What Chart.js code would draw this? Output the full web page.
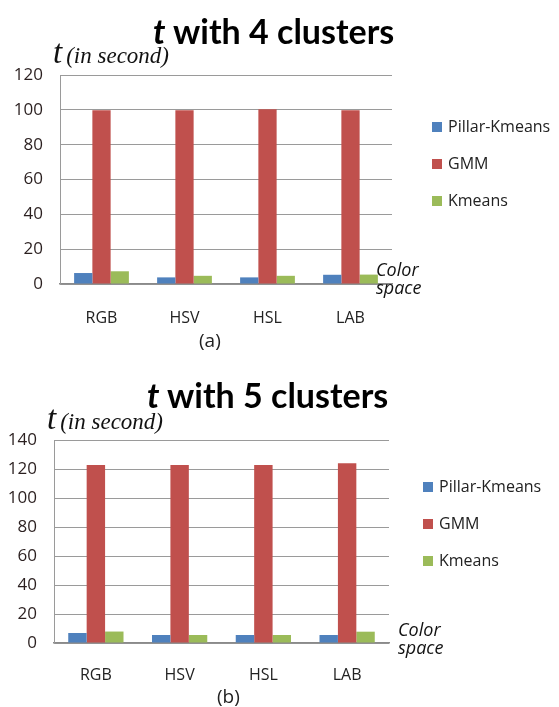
<!DOCTYPE html>
<html>
<head>
<meta charset="utf-8">
<script src="https://cdn.jsdelivr.net/npm/chart.js@4"></script>
<style>
  body { margin: 0; background: #fff; width: 559px; height: 707px; position: relative; overflow: hidden; }
  .panel { position: absolute; left: 0; width: 559px; }
  .title { position: absolute; font-family: Lato, 'Open Sans', sans-serif; font-weight: bold; font-size: 34px; color: #000; white-space: nowrap; }
  .title i { font-style: italic; }
  .ylab { position: absolute; white-space: nowrap; font-family: 'Liberation Serif', serif; font-style: italic; color: #111; }
  .ylab .big { font-size: 33px; }
  .ylab .small { font-size: 23px; }
  .xunit { position: absolute; font-family: 'Open Sans', sans-serif; font-style: italic; font-size: 18px; line-height: 18px; color: #111; }
  .cap { position: absolute; font-family: 'Open Sans', sans-serif; font-size: 19px; color: #222; }
</style>
</head>
<body>
<div class="panel" style="top:0;height:355px">
  <canvas id="chartA" width="559" height="355"></canvas>
  <div class="title" style="left:153px;top:10px"><i>t</i> with 4 clusters</div>
  <div class="ylab" style="left:53px;top:34px"><span class="big">t</span> <span class="small">(in second)</span></div>
  <div class="xunit" style="left:376px;top:260px">Color<br>space</div>
  <div class="cap" style="left:199px;top:327px">(a)</div>
</div>
<div class="panel" style="top:355px;height:352px">
  <canvas id="chartB" width="559" height="352"></canvas>
  <div class="title" style="left:147px;top:19px"><i>t</i> with 5 clusters</div>
  <div class="ylab" style="left:47px;top:45px"><span class="big">t</span> <span class="small">(in second)</span></div>
  <div class="xunit" style="left:398px;top:265px">Color<br>space</div>
  <div class="cap" style="left:217px;top:328px">(b)</div>
</div>
<script>
// categories
const colorSpaces = ['RGB', 'HSV', 'HSL', 'LAB'];
const seriesNames = ['Pillar-Kmeans', 'GMM', 'Kmeans'];

// run time in seconds, 4 clusters
const pillar4 = [6.3, 3.8, 3.8, 5.3];
const gmm4 = [99.8, 99.8, 100.4, 99.8];
const kmeans4 = [7.3, 4.7, 4.7, 5.4];

// run time in seconds, 5 clusters
const pillar5 = [6.9, 5.5, 5.5, 5.5];
const gmm5 = [122.8, 122.8, 122.8, 123.9];
const kmeans5 = [7.9, 5.5, 5.5, 7.8];

// y axis ticks
const yTicks4 = [0, 20, 40, 60, 80, 100, 120];
const yTicks5 = [0, 20, 40, 60, 80, 100, 120, 140];

const barColors = ['#4f81bd', '#c0504d', '#9bbb59'];

// draws the legend as small squares beside the plot
const sideLegend = {
    id: 'sideLegend',
    afterDraw(chart, args, opts) {
        const ctx = chart.ctx;
        ctx.save();
        ctx.font = '16px "Open Sans", sans-serif';
        ctx.textBaseline = 'middle';
        chart.data.datasets.forEach((ds, i) => {
            const y = opts.y + i * opts.gap;
            ctx.fillStyle = ds.backgroundColor;
            ctx.fillRect(opts.x, y - 5, 10, 10);
            ctx.fillStyle = '#222';
            ctx.fillText(ds.label, opts.x + 16, y);
        });
        ctx.restore();
    }
};

function makeChart(id, data, ticks, box) {
    const ctx = document.getElementById(id).getContext('2d');
    return new Chart(ctx, {
        type: 'bar',
        data: {
            labels: colorSpaces,
            datasets: data.map((vals, i) => ({
                label: seriesNames[i],
                data: vals,
                backgroundColor: barColors[i],
                categoryPercentage: 0.66,
                barPercentage: 1.0
            }))
        },
        options: {
            responsive: false,
            animation: false,
            devicePixelRatio: 1,
            layout: { padding: { top: box.top, right: box.right, left: 0, bottom: 0 } },
            plugins: {
                legend: { display: false },
                tooltip: { enabled: false },
                sideLegend: box.legend
            },
            scales: {
                x: {
                    afterFit: s => { s.height = box.xHeight; },
                    grid: { display: false, drawTicks: false },
                    border: { color: '#8a8a8a', width: 1.5 },
                    ticks: { color: '#222', font: { family: 'Open Sans', size: 16 }, padding: box.xPad }
                },
                y: {
                    min: 0,
                    max: ticks[ticks.length - 1],
                    afterFit: s => { s.width = box.yWidth; },
                    afterBuildTicks: s => { s.ticks = ticks.map(v => ({ value: v })); },
                    grid: { color: '#9a9a9a', lineWidth: 1, drawTicks: false },
                    border: { color: '#9a9a9a', width: 1 },
                    ticks: { color: '#2a1f1f', font: { family: 'Open Sans', size: 17 }, padding: 17 }
                }
            }
        },
        plugins: [sideLegend]
    });
}

makeChart('chartA', [pillar4, gmm4, kmeans4], yTicks4, {
    top: 75, right: 167, xHeight: 71, yWidth: 60, xPad: 25,
    legend: { x: 432, y: 127, gap: 37 }
});
makeChart('chartB', [pillar5, gmm5, kmeans5], yTicks5, {
    top: 85, right: 170, xHeight: 64, yWidth: 54, xPad: 23,
    legend: { x: 423, y: 132, gap: 37 }
});
</script>
</body>
</html>
